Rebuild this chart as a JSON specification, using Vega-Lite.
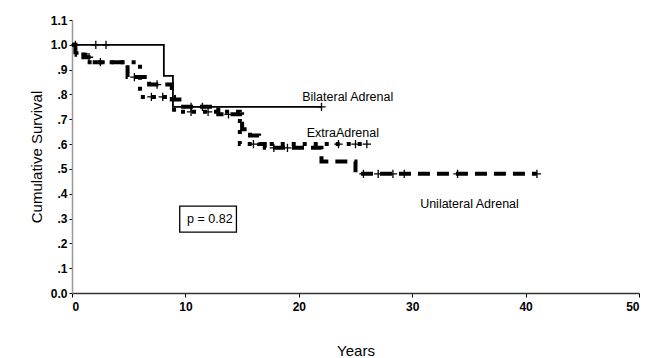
{
  "$schema": "https://vega.github.io/schema/vega-lite/v6.json",
  "width": 567,
  "height": 273,
  "autosize": {"type": "none"},
  "padding": {"left": 72, "top": 20, "right": 11, "bottom": 65},
  "background": "white",
  "config": {
    "view": {"stroke": null},
    "font": "Liberation Sans",
    "axis": {"grid": false, "labelFont": "Liberation Sans", "titleFont": "Liberation Sans", "labelColor": "black", "titleColor": "black", "titleFontWeight": "normal", "tickColor": "black", "domainColor": "#555", "labelFontWeight": "bold", "labelOverlap": false}
  },
  "datasets": {
    "curves": [
      {"group": "Unilateral Adrenal", "t": 0, "s": 1.0},
      {"group": "Unilateral Adrenal", "t": 0.3, "s": 0.97},
      {"group": "Unilateral Adrenal", "t": 1.0, "s": 0.95},
      {"group": "Unilateral Adrenal", "t": 2.0, "s": 0.93},
      {"group": "Unilateral Adrenal", "t": 4.9, "s": 0.87},
      {"group": "Unilateral Adrenal", "t": 6.8, "s": 0.84},
      {"group": "Unilateral Adrenal", "t": 8.8, "s": 0.78},
      {"group": "Unilateral Adrenal", "t": 9.8, "s": 0.75},
      {"group": "Unilateral Adrenal", "t": 12.9, "s": 0.72},
      {"group": "Unilateral Adrenal", "t": 15.0, "s": 0.66},
      {"group": "Unilateral Adrenal", "t": 15.7, "s": 0.635},
      {"group": "Unilateral Adrenal", "t": 16.5, "s": 0.6},
      {"group": "Unilateral Adrenal", "t": 17.0, "s": 0.585},
      {"group": "Unilateral Adrenal", "t": 22.0, "s": 0.53},
      {"group": "Unilateral Adrenal", "t": 25.0, "s": 0.48},
      {"group": "Unilateral Adrenal", "t": 41.0, "s": 0.48},
      {"group": "ExtraAdrenal", "t": 0, "s": 1.0},
      {"group": "ExtraAdrenal", "t": 0.4, "s": 0.96},
      {"group": "ExtraAdrenal", "t": 1.2, "s": 0.93},
      {"group": "ExtraAdrenal", "t": 6.0, "s": 0.79},
      {"group": "ExtraAdrenal", "t": 9.0, "s": 0.73},
      {"group": "ExtraAdrenal", "t": 14.8, "s": 0.6},
      {"group": "ExtraAdrenal", "t": 26.0, "s": 0.6},
      {"group": "Bilateral Adrenal", "t": 0, "s": 1.0},
      {"group": "Bilateral Adrenal", "t": 8.1, "s": 0.875},
      {"group": "Bilateral Adrenal", "t": 8.9, "s": 0.75},
      {"group": "Bilateral Adrenal", "t": 22.0, "s": 0.75}
    ],
    "censor": [
      {"group": "Bilateral Adrenal", "t": 0.3, "s": 1.0},
      {"group": "Bilateral Adrenal", "t": 2.1, "s": 1.0},
      {"group": "Bilateral Adrenal", "t": 3.0, "s": 1.0},
      {"group": "Bilateral Adrenal", "t": 22.0, "s": 0.75},
      {"group": "Unilateral Adrenal", "t": 1.5, "s": 0.95},
      {"group": "Unilateral Adrenal", "t": 2.5, "s": 0.93},
      {"group": "Unilateral Adrenal", "t": 5.5, "s": 0.87},
      {"group": "Unilateral Adrenal", "t": 7.5, "s": 0.84},
      {"group": "Unilateral Adrenal", "t": 10.5, "s": 0.75},
      {"group": "Unilateral Adrenal", "t": 11.5, "s": 0.75},
      {"group": "Unilateral Adrenal", "t": 13.8, "s": 0.72},
      {"group": "Unilateral Adrenal", "t": 17.8, "s": 0.585},
      {"group": "Unilateral Adrenal", "t": 19.0, "s": 0.585},
      {"group": "Unilateral Adrenal", "t": 25.7, "s": 0.48},
      {"group": "Unilateral Adrenal", "t": 27.0, "s": 0.48},
      {"group": "Unilateral Adrenal", "t": 28.3, "s": 0.48},
      {"group": "Unilateral Adrenal", "t": 29.3, "s": 0.48},
      {"group": "Unilateral Adrenal", "t": 34.0, "s": 0.48},
      {"group": "Unilateral Adrenal", "t": 41.0, "s": 0.48},
      {"group": "ExtraAdrenal", "t": 7.0, "s": 0.79},
      {"group": "ExtraAdrenal", "t": 8.0, "s": 0.79},
      {"group": "ExtraAdrenal", "t": 10.5, "s": 0.73},
      {"group": "ExtraAdrenal", "t": 12.0, "s": 0.73},
      {"group": "ExtraAdrenal", "t": 16.0, "s": 0.6},
      {"group": "ExtraAdrenal", "t": 23.5, "s": 0.6},
      {"group": "ExtraAdrenal", "t": 25.0, "s": 0.6},
      {"group": "ExtraAdrenal", "t": 26.0, "s": 0.6}
    ],
    "labels": [
      {"label": "Bilateral Adrenal", "t": 20.3, "s": 0.79},
      {"label": "ExtraAdrenal", "t": 20.7, "s": 0.645},
      {"label": "Unilateral Adrenal", "t": 30.7, "s": 0.36},
      {"label": "p = 0.82", "t": 10.15, "s": 0.297}
    ],
    "pbox": [
      {"t": 9.5, "t2": 14.5, "s": 0.35, "s2": 0.245}
    ]
  },
  "encoding": {
    "x": {"field": "t", "type": "quantitative", "scale": {"domain": [0, 50]}, "axis": {"values": [0, 10, 20, 30, 40, 50], "title": "Years", "titleFontSize": 15, "titlePadding": 31, "labelFontSize": 12, "tickSize": 4, "labelPadding": 4, "domainColor": "#333", "domainWidth": 1.5}},
    "y": {"field": "s", "type": "quantitative", "scale": {"domain": [0, 1.1]}, "axis": {"values": [0, 0.1, 0.2, 0.3, 0.4, 0.5, 0.6, 0.7, 0.8, 0.9, 1.0, 1.1], "labelOverlap": false, "title": "Cumulative Survival", "titleFontSize": 15, "titlePadding": 6, "labelFontSize": 12, "tickSize": 3, "labelPadding": 2, "domainColor": "#999", "domainWidth": 1.5, "labelExpr": "datum.value == 0 ? '0.0' : datum.value >= 0.99 ? format(datum.value, '.1f') : replace(format(datum.value, '.1f'), '0.', '.')"}}
  },
  "layer": [
    {
      "data": {"name": "curves"},
      "transform": [{"filter": "datum.group === 'Unilateral Adrenal'"}],
      "mark": {"type": "line", "interpolate": "step-after", "color": "black", "strokeWidth": 4, "strokeDash": [12, 7]}
    },
    {
      "data": {"name": "curves"},
      "transform": [{"filter": "datum.group === 'ExtraAdrenal'"}],
      "mark": {"type": "line", "interpolate": "step-after", "color": "black", "strokeWidth": 4, "strokeDash": [4, 7]}
    },
    {
      "data": {"name": "curves"},
      "transform": [{"filter": "datum.group === 'Bilateral Adrenal'"}],
      "mark": {"type": "line", "interpolate": "step-after", "color": "black", "strokeWidth": 1.8}
    },
    {
      "data": {"name": "censor"},
      "mark": {"type": "point", "shape": "M0,-1V1M-1,0H1", "filled": false, "color": "black", "strokeWidth": 1.3, "size": 70, "opacity": 1}
    },
    {
      "data": {"name": "pbox"},
      "mark": {"type": "rect", "fill": "white", "stroke": "black", "strokeWidth": 1.3},
      "encoding": {
        "x2": {"field": "t2"},
        "y2": {"field": "s2"}
      }
    },
    {
      "data": {"name": "labels"},
      "mark": {"type": "text", "align": "left", "baseline": "middle", "fontSize": 12.5, "font": "Liberation Sans", "color": "black"},
      "encoding": {
        "text": {"field": "label"}
      }
    }
  ]
}
